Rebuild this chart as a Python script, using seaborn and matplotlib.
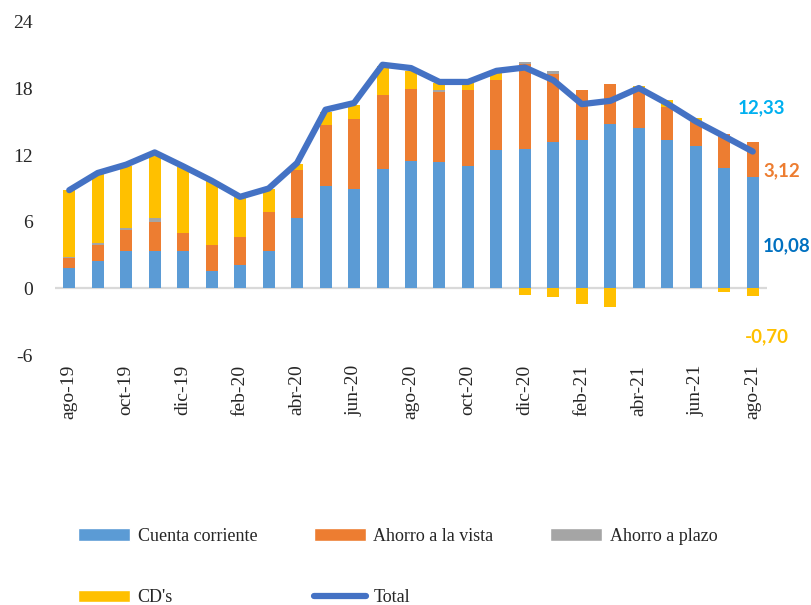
import numpy as np
import pandas as pd
import matplotlib
matplotlib.use("Agg")
import matplotlib.pyplot as plt
import seaborn as sns
from matplotlib.patches import Patch
from matplotlib.lines import Line2D

# Monthly contribution by deposit type (percentage points)
months = ["ago-19", "sep-19", "oct-19", "nov-19", "dic-19", "ene-20", "feb-20",
          "mar-20", "abr-20", "may-20", "jun-20", "jul-20", "ago-20", "sep-20",
          "oct-20", "nov-20", "dic-20", "ene-21", "feb-21", "mar-21", "abr-21",
          "may-21", "jun-21", "jul-21", "ago-21"]
cuenta_corriente = [1.80, 2.50, 3.40, 3.40, 3.40, 1.60, 2.10, 3.40, 6.35, 9.20,
                    9.00, 10.80, 11.50, 11.35, 11.00, 12.45, 12.60, 13.15, 13.35,
                    14.80, 14.45, 13.35, 12.85, 10.85, 10.08]
ahorro_vista = [0.90, 1.45, 1.85, 2.55, 1.60, 2.35, 2.55, 3.45, 4.30, 5.55,
                6.30, 6.65, 6.50, 6.30, 6.85, 6.30, 7.60, 6.20, 4.55,
                3.65, 3.60, 2.95, 2.10, 3.10, 3.12]
ahorro_plazo = [0.15, 0.18, 0.18, 0.36, 0.00, 0.00, 0.00, 0.00, 0.00, 0.00,
                0.00, 0.00, 0.00, 0.18, 0.00, 0.00, 0.21, 0.21, 0.00,
                0.00, 0.00, 0.00, 0.00, 0.00, 0.00]
cds = [6.05, 6.15, 5.60, 5.60, 5.90, 5.75, 3.55, 2.10, 0.55, 1.10,
       1.25, 2.55, 1.60, 0.67, 0.67, 0.65, -0.55, -0.75, -1.45,
       -1.65, 0.20, 0.65, 0.40, -0.35, -0.70]
total = [8.85, 10.40, 11.15, 12.25, 11.00, 9.70, 8.25, 9.00, 11.30, 16.10,
         16.70, 20.15, 19.85, 18.60, 18.60, 19.60, 19.90, 18.75, 16.60,
         16.90, 18.05, 16.65, 15.05, 13.70, 12.33]
tick_labels = months[::2]
y_ticks = [-6, 0, 6, 12, 18, 24]

series = [
    ("Cuenta corriente", cuenta_corriente, "#5B9BD5"),
    ("Ahorro a la vista", ahorro_vista, "#ED7D31"),
    ("Ahorro a plazo", ahorro_plazo, "#A5A5A5"),
    ("CD's", cds, "#FFC000"),
]

sns.set_theme(style="white")
plt.rcParams["font.family"] = ["Liberation Serif", "DejaVu Serif"]

fig = plt.figure(figsize=(8.11, 6.05), dpi=100)
ax = fig.add_axes([55 / 811, 1 - 355 / 605, (767 - 55) / 811, (355 - 22) / 605])

x = np.arange(len(months))
pos_base = np.zeros(len(months))
neg_base = np.zeros(len(months))
for name, vals, color in series:
    v = np.asarray(vals, dtype=float)
    bottom = np.where(v >= 0, pos_base, neg_base)
    ax.bar(x, v, bottom=bottom, width=0.42, color=color, linewidth=0, zorder=2)
    pos_base += np.clip(v, 0, None)
    neg_base += np.clip(v, None, 0)

df_total = pd.DataFrame({"pos": x, "Total": total})
sns.lineplot(data=df_total, x="pos", y="Total", ax=ax, color="#4472C4",
             linewidth=4.5, zorder=4, legend=False)

ax.axhline(0, color="#D9D9D9", linewidth=1.6, zorder=1)
ax.set_xlim(-0.5, 24.5)
ax.set_ylim(-6, 24)
ax.set_yticks(y_ticks)
ax.set_yticklabels([str(t) for t in y_ticks], fontsize=14)
ax.set_xticks(x[::2])
ax.set_xticklabels(tick_labels, rotation=90, fontsize=14)
ax.tick_params(axis="y", length=0, pad=16)
ax.tick_params(axis="x", length=0, pad=7)
ax.set_xlabel("")
ax.set_ylabel("")
for s in ax.spines.values():
    s.set_visible(False)

# Value labels for the latest month
lab_font = dict(family=["Lato", "DejaVu Sans"], fontweight="bold", fontsize=13.5,
                ha="center", va="center", clip_on=False)
ax.text(24.31, 16.3, "12,33", color="#00B0F0", **lab_font)
ax.text(25.03, 10.56, "3,12", color="#ED7D31", **lab_font)
ax.text(25.2, 3.88, "10,08", color="#0070C0", **lab_font)
ax.text(24.5, -4.33, "-0,70", color="#FFC000", **lab_font)

handles = [
    Patch(facecolor="#5B9BD5", label="Cuenta corriente"),
    Patch(facecolor="#FFC000", label="CD's"),
    Patch(facecolor="#ED7D31", label="Ahorro a la vista"),
    Line2D([0], [0], color="#4472C4", linewidth=4.5, solid_capstyle="round", label="Total"),
    Patch(facecolor="#A5A5A5", label="Ahorro a plazo"),
]
fig.legend(handles=handles, loc="upper left",
           bbox_to_anchor=(78 / 811, 1 - 528 / 605), ncol=3, frameon=False,
           fontsize=13, handlelength=2.9, handleheight=0.7, handletextpad=0.4,
           columnspacing=3.13, labelspacing=2.45, borderpad=0, borderaxespad=0)

fig.savefig("out.png", dpi=100)
